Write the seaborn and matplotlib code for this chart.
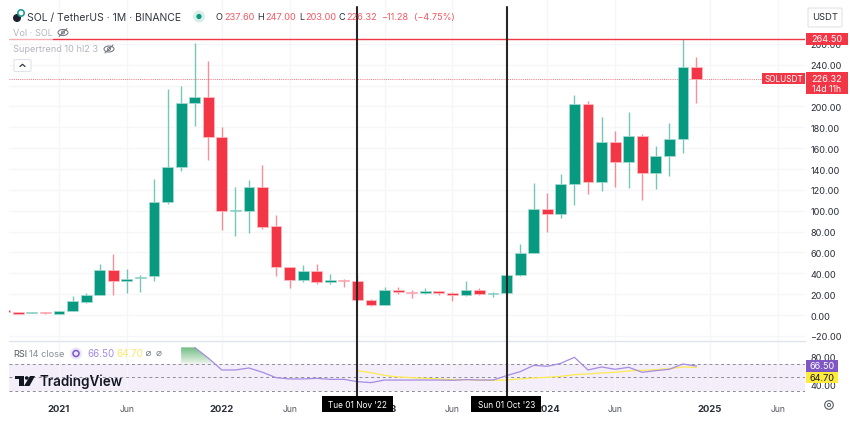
import numpy as np
import pandas as pd
import matplotlib
matplotlib.use("Agg")
import matplotlib.pyplot as plt
import seaborn as sns
from matplotlib.patches import Rectangle, Circle, Ellipse, Polygon, FancyBboxPatch

# months counted from Jan 2021
months = list(range(-4, 48))
opens = [4.8, 2.8, 2.0, 2.6, 1.3, 4.1, 12.8, 19.2, 42.8, 32.9, 35.8, 37.0, 108.6, 142.2, 203.3, 208.7,
         170.4, 100.2, 100.0, 123.0, 85.0, 46.0, 33.8, 42.2, 31.6, 33.8, 32.6, 14.1, 9.9, 24.0, 22.0,
         21.1, 22.7, 21.0, 18.9, 23.7, 19.8, 21.4, 38.4, 59.4, 101.9, 97.1, 125.6, 202.6, 127.2, 165.9,
         147.0, 171.9, 135.9, 152.7, 169.0, 237.60]
closes = [3.0, 1.3, 2.6, 2.0, 4.1, 13.1, 19.2, 42.8, 32.9, 35.0, 36.7, 108.0, 141.6, 203.0, 209.0, 170.4,
          99.7, 100.6, 123.0, 84.7, 45.7, 33.8, 42.2, 31.6, 33.6, 32.9, 14.1, 9.9, 24.0, 22.0, 21.1,
          22.7, 20.8, 18.9, 23.7, 19.8, 21.0, 38.4, 59.2, 101.6, 97.1, 125.9, 202.6, 127.2, 165.9, 147.0,
          171.9, 135.9, 152.4, 169.0, 238.0, 226.32]
highs = [5.2, 3.0, 2.8, 2.8, 4.3, 18.5, 21.0, 48.9, 58.5, 44.0, 38.0, 130.4, 216.7, 219.3, 260.8, 243.5,
         180.0, 122.4, 129.4, 143.8, 95.9, 46.5, 47.9, 48.6, 39.0, 34.5, 39.3, 15.3, 26.5, 27.1, 24.3,
         26.2, 23.2, 22.0, 32.3, 25.9, 21.8, 38.8, 68.0, 127.0, 117.0, 135.2, 210.9, 204.9, 189.5, 176.0,
         194.3, 173.2, 162.0, 183.8, 264.50, 247.00]
lows = [2.5, 1.0, 1.6, 0.9, 1.0, 4.0, 12.0, 18.9, 19.5, 20.8, 22.3, 32.9, 106.4, 138.0, 181.5, 148.9,
        81.5, 76.0, 78.3, 82.5, 37.7, 26.2, 31.9, 30.0, 30.0, 27.1, 12.2, 8.3, 9.5, 20.1, 16.3,
        19.8, 19.5, 13.1, 18.5, 19.0, 17.5, 20.5, 37.8, 59.0, 79.9, 93.0, 105.5, 116.0, 118.9, 122.4,
        121.5, 110.3, 120.5, 133.6, 155.3, 203.00]

rsi_months = list(range(9, 48))
rsi_values = [94, 94, 78.4, 60.8, 60.8, 63.7, 57.4, 49.5, 47.6, 47.6, 48.5, 47, 47, 43.6, 42.2, 46, 46,
              46, 46, 46, 45.6, 46.6, 46, 46, 52.5, 58.3, 67.6, 66.2, 70.6, 79.4, 60.8, 65.2, 61.8,
              64.7, 57.4, 59.8, 61.8, 69.6, 66.50]
ma_months = list(range(22, 48))
ma_values = [59.8, 56.9, 52.9, 50.5, 49.5, 48.5, 47.6, 46.6, 46.6, 46, 45.6, 46, 47.6, 49, 50, 51.5, 53.9,
             54.9, 56.4, 57.4, 59.3, 60.3, 61.3, 62.7, 65.2, 64.70]

price_ticks = list(range(-20, 261, 20))
time_ticks = [0, 5, 12, 17, 24, 29, 36, 41, 48, 53]
time_labels = ["2021", "Jun", "2022", "Jun", "2023", "Jun", "2024", "Jun", "2025", "Jun"]
marked_months = [22, 33]

GREEN = "#089981"
RED = "#f23645"
GRID = "#f6f6f8"
PURPLE = "#a68ce0"
YELLOW = "#fdea4f"
FONT = "Inter"

sns.set_theme(style="white")
plt.rcParams["font.family"] = [FONT, "DejaVu Sans"]

W, H = 850, 427
fig = plt.figure(figsize=(8.5, 4.27), dpi=100, facecolor="white")


def pane(x0, y0, x1, y1):
    return fig.add_axes([x0 / W, 1 - y1 / H, (x1 - x0) / W, (y1 - y0) / H])


ax = pane(9, 0, 805, 342)
ax_rsi = pane(9, 342, 805, 393)
ax_top = fig.add_axes([0, 0, 1, 1], facecolor="none")
ax_top.set_xlim(0, W)
ax_top.set_ylim(H, 0)
ax_top.axis("off")

df = pd.DataFrame({"month": months, "open": opens, "close": closes, "high": highs, "low": lows})
df["color"] = np.where(df["close"] >= df["open"], GREEN, RED)

for a in (ax, ax_rsi):
    a.set_xlim(-3.69, 55)
    a.set_xticks(time_ticks)
    a.grid(axis="x", color=GRID, lw=0.9)
    a.set_axisbelow(True)
    sns.despine(ax=a, left=True, right=True, top=True, bottom=True)

ax.set_ylim(-24.9, 303)
ax.set_yticks(price_ticks)
ax.set_yticklabels([f"{v:.2f}".replace("-", "\u2212") for v in price_ticks])
ax.grid(axis="y", color=GRID, lw=0.9)
ax.yaxis.tick_right()
ax.tick_params(axis="y", length=0, pad=4, labelsize=6.6, labelcolor="#2a2e39")
ax.tick_params(axis="x", length=0, labelbottom=False)

# candles
ax.vlines(df["month"], df["low"], df["high"], colors=df["color"], lw=1.0, alpha=0.55, zorder=2)
ax.bar(df["month"], (df["close"] - df["open"]).abs().clip(lower=0.7), bottom=df[["open", "close"]].min(axis=1),
       width=0.8, color=df["color"], edgecolor=df["color"].map({GREEN: "#a9dcd2", RED: "#fbc0c6"}), lw=0.5, zorder=3)

ax.axhline(highs[-2], color=RED, lw=1.0, zorder=4)
ax.axhline(closes[-1], color="#f7727d", lw=0.7, ls=(0, (1, 1.2)), zorder=1)

# rsi pane
rsi_df = pd.DataFrame({"month": rsi_months, "rsi": rsi_values})
ma_df = pd.DataFrame({"month": ma_months, "ma": ma_values})
ax_rsi.set_ylim(28.4, 103.4)
ax_rsi.axhspan(30, 70, color="#f3eefa", zorder=0, lw=0)
for level in (70, 50, 30):
    ax_rsi.axhline(level, color="#8a8d96", lw=0.7, ls=(0, (3, 3)), zorder=1)
fill = ax_rsi.fill_between(rsi_df["month"], 70, rsi_df["rsi"], where=rsi_df["rsi"] >= 70, interpolate=True,
                           color="none", lw=0)
grad = ax_rsi.imshow(np.linspace(0, 1, 64).reshape(-1, 1), extent=(-3.69, 55, 70, 94), aspect="auto",
                     origin="upper", zorder=1.5,
                     cmap=matplotlib.colors.LinearSegmentedColormap.from_list("g", ["#6fbd82", "#eef5ec"]))
grad.set_clip_path(fill.get_paths()[0], transform=ax_rsi.transData)
ax_rsi.set_xlim(-3.69, 55)
ax_rsi.set_ylim(28.4, 103.4)
sns.lineplot(data=rsi_df[rsi_df["month"] >= 10], x="month", y="rsi", ax=ax_rsi, color=PURPLE, lw=0.9, zorder=3)
sns.lineplot(data=ma_df, x="month", y="ma", ax=ax_rsi, color=YELLOW, lw=0.9, zorder=2.5)
ax_rsi.set_xlabel("")
ax_rsi.set_ylabel("")
ax_rsi.set_xticklabels(time_labels)
ax_rsi.yaxis.tick_right()
ax_rsi.set_yticks([40, 80])
ax_rsi.set_yticklabels(["40.00", "80.00"])
ax_rsi.tick_params(axis="y", length=0, pad=4, labelsize=6.6, labelcolor="#2a2e39")
ax_rsi.tick_params(axis="x", length=0, pad=8.5, labelsize=6.2, labelcolor="#555963")
for lab, txt in zip(ax_rsi.get_xticklabels(), time_labels):
    if txt != "Jun":
        lab.set_fontweight("bold")
        lab.set_color("#2a2e39")
        lab.set_fontsize(6.8)
ax_rsi.plot(ax_rsi.get_xlim(), [103.4, 103.4], color="#e0e3eb", lw=1.0, clip_on=False, zorder=4)

# the two vertical markers
for m in marked_months:
    ax.axvline(m, ymin=0, ymax=1 - 8 / 342, color="#262626", lw=1.5, zorder=5)
    ax_rsi.axvline(m, ymin=-0.1, ymax=1, color="#262626", lw=1.5, zorder=5, clip_on=False)


# decorations on the pixel overlay
def label(x, y, s, color="#2a2e39", size=7, **kw):
    ax_top.text(x, y, s, color=color, fontsize=size, va="center", ha=kw.pop("ha", "left"), **kw)


def box(x0, y0, x1, y1, color, **kw):
    ax_top.add_patch(Rectangle((x0, y0), x1 - x0, y1 - y0, facecolor=color, lw=0, **kw))


def eye(x, y, color="#6a6d78"):
    ax_top.add_patch(Ellipse((x, y), 10, 6, fill=False, ec=color, lw=0.7))
    ax_top.add_patch(Circle((x, y), 1.5, fill=False, ec=color, lw=0.6))
    ax_top.plot([x - 4, x + 4], [y + 4, y - 4], color=color, lw=0.7)


box(9, 38, 53, 41.5, "white", alpha=0.6)

# header
ax_top.add_patch(Circle((17, 19), 4, color="#1c2030", lw=0))
ax_top.add_patch(Circle((21, 14), 3.2, fill=False, ec="#1f9e94", lw=1.2))
label(27.5, 17.5, "SOL / TetherUS \u00b7 1M \u00b7 BINANCE", size=7.5, color="#333642")
ax_top.add_patch(Circle((199, 17.5), 6, color="#d9eee9", lw=0))
ax_top.add_patch(Circle((199, 17.5), 2.6, color=GREEN, lw=0))
for x, s, c in [(216, "O", "#2a2e39"), (224, "237.60", "#f65763"), (257.7, "H", "#2a2e39"), (265.3, "247.00", "#f65763"),
                (299.3, "L", "#2a2e39"), (305, "203.00", "#f65763"), (339, "C", "#2a2e39"), (346.7, "226.32", "#f65763"),
                (380.7, "\u221211.28", "#f65763"), (414, "(\u22124.75%)", "#f65763")]:
    label(x, 17.5, s, color=c, size=6.6)
label(13, 33.5, "Vol \u00b7 SOL", color="#b4b6be", size=6.6)
eye(63, 33.5)
label(13, 50, "Supertrend 10 hl2 3", color="#b4b6be", size=6.6)
eye(109, 50)
ax_top.add_patch(FancyBboxPatch((14, 60.5), 17, 12, boxstyle="round,pad=0,rounding_size=1.5", fc="white",
                                ec="#e0e3eb", lw=0.8))
ax_top.plot([20, 22.5, 25], [67.5, 65.3, 67.5], color="#333642", lw=0.9)

# USDT button
ax_top.add_patch(FancyBboxPatch((808, 9), 34, 19, boxstyle="round,pad=0,rounding_size=1.5", fc="white",
                                ec="#e0e3eb", lw=0.8))
label(825, 18, "USDT", size=6.8, ha="center")

# price flags
box(806, 34, 848, 46, RED)
label(827, 40, "264.50", color="white", size=6.6, ha="center")
box(762, 74, 805, 85, RED)
label(783.5, 79.5, "SOLUSDT", color="white", size=5.9, ha="center")
box(806, 73, 848, 95, RED)
label(827, 79.5, "226.32", color="white", size=6.6, ha="center")
label(827, 89, "14d 11h", color="white", size=6.3, ha="center")
box(806, 361, 838.5, 372.7, "#7e57c2")
label(822, 367, "66.50", color="white", size=6.6, ha="center")
box(806, 372.7, 838.5, 384.3, "#ffeb3b")
label(822, 378.5, "64.70", color="#131722", size=6.6, ha="center")

# rsi legend
label(13, 354.5, "RSI", color="#555963", size=6.6)
label(29.5, 354.5, "14 close", color="#8a8d96", size=6.6)
ax_top.add_patch(Circle((76, 354.5), 6, color="#ece6fa", lw=0))
ax_top.add_patch(Circle((76, 354.5), 3, fill=False, ec="#7e57c2", lw=1.1))
label(87.5, 354.5, "66.50", color="#a58be3", size=7)
label(116.5, 354.5, "64.70", color="#fbe96a", size=7)
for x in (148.5, 159):
    ax_top.add_patch(Circle((x, 354.5), 2.2, fill=False, ec="#777a85", lw=0.5))
    ax_top.plot([x - 2, x + 2], [356.5, 352.5], color="#777a85", lw=0.5)

# TradingView mark
ax_top.add_patch(Polygon([(15, 377), (24, 377), (24, 387), (19.5, 387), (19.5, 380), (15, 380)], color="#131722", lw=0))
ax_top.add_patch(Circle((26.7, 379), 1.8, color="#131722", lw=0))
ax_top.add_patch(Polygon([(30, 377), (35, 377), (29.5, 387), (24, 387)], color="#131722", lw=0))
label(40, 382, "TradingView", color="#131722", size=9.7, fontweight="semibold")

# date tooltips
for x0, x1, s in [(322.5, 393, "Tue 01 Nov '22"), (471.5, 541, "Sun 01 Oct '23")]:
    box(x0, 397, x1, 413, "black")
    label((x0 + x1) / 2, 406, s, color="white", size=6.0, ha="center")

# settings gear
ax_top.add_patch(Circle((829, 406), 4.3, fill=False, ec="#555963", lw=0.8))
ax_top.add_patch(Circle((829, 406), 1.6, fill=False, ec="#555963", lw=0.7))

fig.savefig("out.png", dpi=100)
